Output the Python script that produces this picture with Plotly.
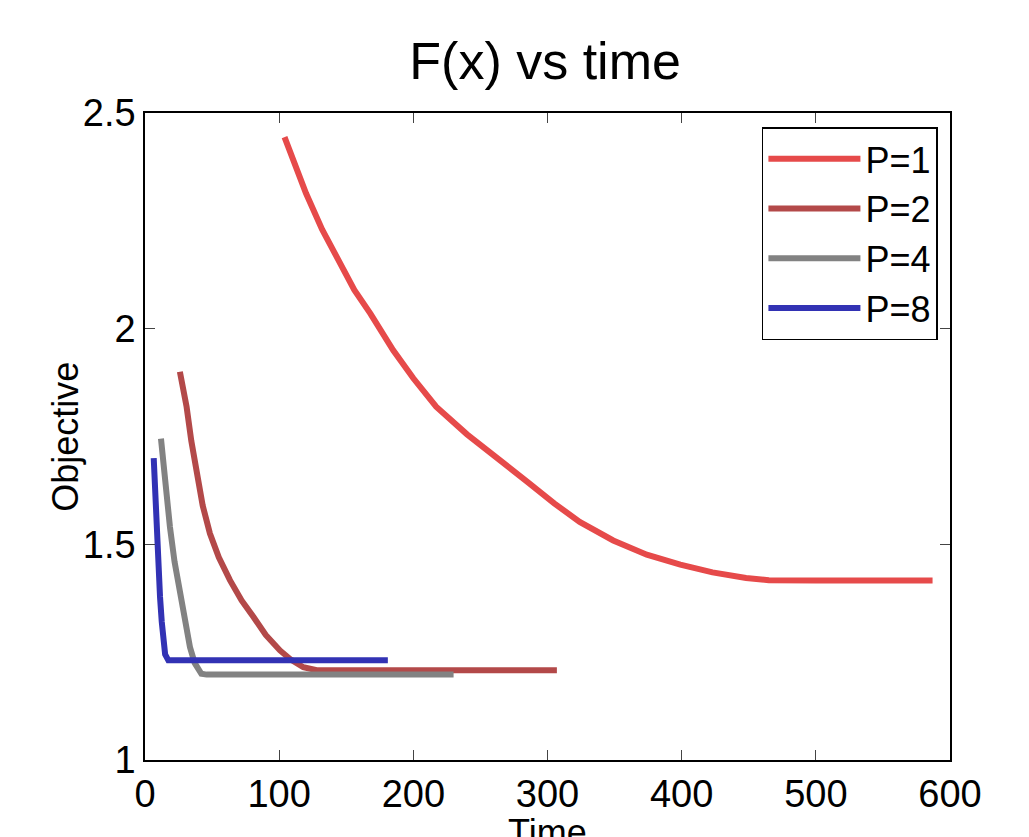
import plotly.graph_objects as go

# data
t_p1 = [104, 112, 120, 132, 145, 156, 168, 185, 200, 217, 240, 262, 285, 305, 324, 349, 374, 399, 423, 448, 465, 500, 540, 587]
f_p1 = [2.444, 2.380, 2.314, 2.230, 2.151, 2.090, 2.035, 1.950, 1.885, 1.819, 1.755, 1.703, 1.645, 1.595, 1.552, 1.509, 1.476, 1.453, 1.435, 1.422, 1.417, 1.416, 1.416, 1.416]

t_p2 = [26, 28.5, 31, 34.5, 38.5, 43, 48.4, 55, 63.3, 72, 81, 90, 100.6, 109, 118, 128, 200, 307]
f_p2 = [1.900, 1.860, 1.819, 1.740, 1.664, 1.590, 1.525, 1.470, 1.417, 1.370, 1.331, 1.290, 1.254, 1.232, 1.215, 1.208, 1.208, 1.208]

t_p4 = [11.9, 15, 18.6, 22, 26, 30, 33.5, 37, 42, 46, 120, 230]
f_p4 = [1.745, 1.640, 1.540, 1.460, 1.393, 1.320, 1.262, 1.225, 1.200, 1.198, 1.198, 1.198]

t_p8 = [6.5, 7, 8.7, 10, 11.2, 12.5, 13.7, 15, 17.4, 60, 181]
f_p8 = [1.700, 1.660, 1.532, 1.450, 1.378, 1.320, 1.270, 1.245, 1.231, 1.231, 1.231]

series = [
    ("P=1", t_p1, f_p1, "#e64a4a"),
    ("P=2", t_p2, f_p2, "#b34949"),
    ("P=4", t_p4, f_p4, "#828282"),
    ("P=8", t_p8, f_p8, "#3232b4"),
]

x_ticks = [0, 100, 200, 300, 400, 500, 600]
y_ticks = [1, 1.5, 2, 2.5]
y_labels = ["1", "1.5", "2", "2.5"]

font = "Liberation Sans, Arial, sans-serif"

fig = go.Figure()
for name, t, f, color in series:
    fig.add_trace(go.Scatter(x=t, y=f, mode="lines", name=name,
                             line=dict(color=color, width=6)))

# page body adds 8px, so margins are shifted to compensate
fig.update_layout(
    width=1029, height=837,
    margin=dict(l=137, r=87, t=105, b=85, autoexpand=False),
    paper_bgcolor="white", plot_bgcolor="white",
    font=dict(family=font, color="black", size=38),
    title=dict(text="F(x) vs time", x=0.522, xanchor="center", y=0.937, yanchor="middle",
               font=dict(size=52, family=font)),
    showlegend=True,
    legend=dict(x=0.985, y=0.978, xanchor="right", yanchor="top",
                bordercolor="black", borderwidth=1.5, bgcolor="white",
                itemwidth=92, font=dict(size=36, family=font), tracegroupgap=0),
)
# axis titles as annotations so they sit where the reference has them
fig.add_annotation(text="Time", xref="paper", yref="paper", x=0.5, y=-0.112,
                   xanchor="center", yanchor="middle", showarrow=False,
                   font=dict(size=36, family=font))
fig.add_annotation(text="Objective", xref="paper", yref="paper", x=-0.099, y=0.5,
                   xanchor="center", yanchor="middle", textangle=-90, showarrow=False,
                   font=dict(size=36, family=font))
fig.update_xaxes(range=[0, 600], tickvals=x_ticks, ticks="inside", ticklen=10,
                 showline=True, linecolor="black", linewidth=1.5, mirror="ticks",
                 showgrid=False, zeroline=False, tickfont=dict(size=38))
fig.update_yaxes(range=[1, 2.5], tickvals=y_ticks, ticktext=y_labels, ticks="inside", ticklen=10,
                 showline=True, linecolor="black", linewidth=1.5, mirror="ticks",
                 showgrid=False, zeroline=False, tickfont=dict(size=38))

fig.write_html("out.html")
